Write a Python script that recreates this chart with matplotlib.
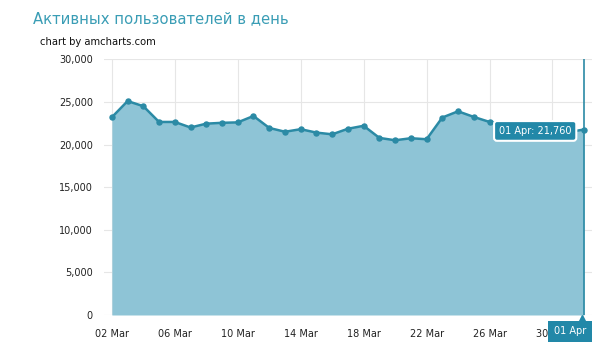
# -*- coding: UTF-8 -*-
# Активные пользователи в день, график в стиле amcharts
import matplotlib.pyplot as plt
import matplotlib.transforms as mtransforms

# даты (02 Mar .. 01 Apr)
days = ['02 Mar', '03 Mar', '04 Mar', '05 Mar', '06 Mar', '07 Mar', '08 Mar', '09 Mar',
        '10 Mar', '11 Mar', '12 Mar', '13 Mar', '14 Mar', '15 Mar', '16 Mar', '17 Mar',
        '18 Mar', '19 Mar', '20 Mar', '21 Mar', '22 Mar', '23 Mar', '24 Mar', '25 Mar',
        '26 Mar', '27 Mar', '28 Mar', '29 Mar', '30 Mar', '31 Mar', '01 Apr']
users = [23200, 25100, 24500, 22650, 22650, 22000, 22450, 22550,
         22600, 23350, 21950, 21500, 21800, 21400, 21200, 21850,
         22200, 20780, 20500, 20740, 20620, 23170, 23900, 23240,
         22650, 22300, 22000, 21850, 21600, 21450, 21760]
y_ticks = [0, 5000, 10000, 15000, 20000, 25000, 30000]

line_c = '#2b8aa5'
fill_c = '#8ec4d6'
title_c = '#3a9db5'
balloon_c = '#2288a8'

fig = plt.figure(figsize=(5.99, 3.51), dpi=100)
ax = fig.add_axes([0.1736, 0.1026, 0.8144, 0.7284])

x = list(range(len(days)))
ax.fill_between(x, users, 0, color=fill_c, lw=0, zorder=2)
ax.plot(x, users, color=line_c, lw=1.8, marker='o', ms=3.6, zorder=3)

ax.set_xlim(-0.5, 30.5)
ax.set_ylim(0, 30000)
ax.set_yticks(y_ticks)
ax.set_yticklabels(['{:,}'.format(v) for v in y_ticks])
ax.set_xticks(x[::4])
ax.set_xticklabels(days[::4])
ax.tick_params(axis='both', length=0, labelsize=7, colors='#222222')
ax.tick_params(axis='x', pad=10)
ax.tick_params(axis='y', pad=8)
ax.grid(True, color='#e6e6e6', lw=0.8, zorder=1)
for s in ax.spines.values():
    s.set_visible(False)

# курсор
ax.axvline(30, color=line_c, lw=1.2, zorder=4)
ax.annotate('01 Apr: {:,}'.format(users[-1]), xy=(30, users[-1]), xytext=(-9, -1),
            textcoords='offset points', ha='right', va='center', color='white',
            fontsize=7, zorder=6,
            bbox=dict(boxstyle='round,pad=0.5,rounding_size=0.3', fc=balloon_c,
                      ec='white', lw=1.5))
trans = mtransforms.blended_transform_factory(ax.transData, ax.transAxes)
ax.text(29.1, -0.045, days[-1], transform=trans, ha='center', va='top', color='white',
        fontsize=7, zorder=6, clip_on=False,
        bbox=dict(boxstyle='square,pad=0.6', fc=balloon_c, ec='none'))
ax.plot([29.85], [-0.012], transform=trans, marker='^', ms=5, color=balloon_c,
        clip_on=False, zorder=6)

fig.text(0.055, 0.948, 'Активных пользователей в день', color=title_c, fontsize=10.7,
         va='center', ha='left')
fig.text(0.067, 0.88, 'chart by amcharts.com', color='#111111', fontsize=7.2,
         va='center', ha='left')

fig.savefig('out.png', dpi=100)
